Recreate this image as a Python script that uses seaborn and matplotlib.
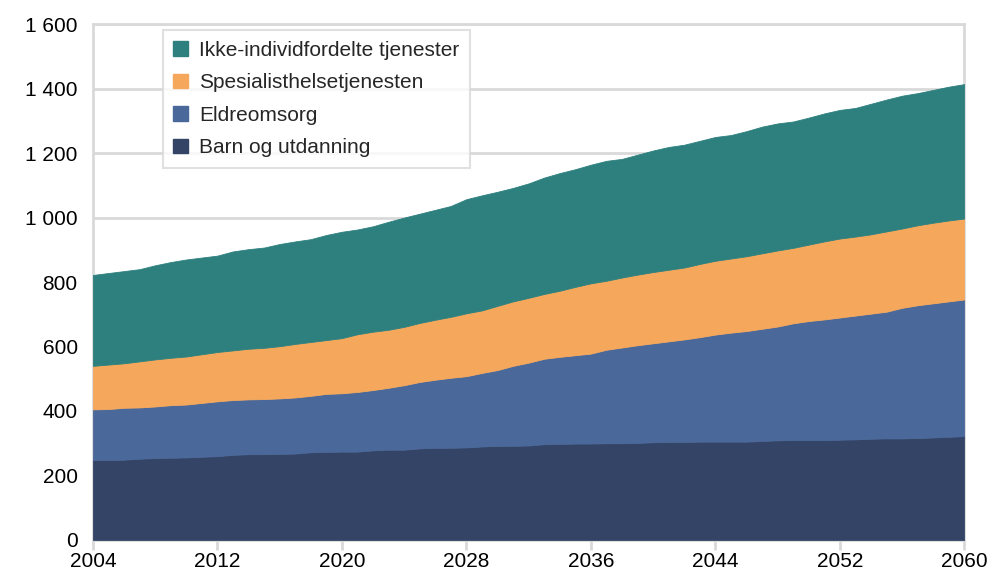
import matplotlib
matplotlib.use("Agg")
import matplotlib.pyplot as plt
import matplotlib.ticker as mticker
from matplotlib.patches import Patch
import seaborn as sns

# data (billion kr)
years = list(range(2004, 2061))

barn = [248, 248, 249, 252, 254, 255, 256, 258, 260, 264,
        266, 266, 267, 268, 272, 273, 274, 274, 278, 280,
        280, 284, 286, 286, 287, 290, 292, 292, 293, 297,
        298, 299, 299, 300, 300, 301, 303, 304, 304, 305,
        305, 305, 305, 307, 309, 310, 310, 310, 311, 312,
        314, 315, 315, 316, 318, 320, 322]

eldre = [157, 158, 161, 159, 160, 163, 164, 167, 170, 170,
         170, 171, 172, 174, 175, 180, 181, 185, 187, 192,
         200, 206, 211, 217, 221, 228, 235, 248, 257, 265,
         270, 274, 279, 290, 297, 303, 307, 312, 318, 324,
         332, 338, 343, 348, 353, 362, 369, 374, 379, 384,
         388, 393, 405, 412, 416, 420, 424]

spes = [135, 138, 138, 143, 146, 147, 149, 151, 153, 154,
        157, 159, 162, 166, 167, 167, 171, 179, 181, 180,
        181, 183, 186, 189, 195, 194, 199, 200, 201, 201,
        205, 212, 218, 214, 217, 219, 221, 222, 223, 227,
        229, 230, 232, 234, 236, 234, 237, 242, 245, 245,
        246, 249, 246, 248, 250, 251, 251]

ikke = [282, 284, 286, 286, 292, 297, 301, 300, 299, 307,
        309, 311, 317, 318, 319, 326, 330, 325, 327, 335,
        339, 339, 341, 344, 354, 357, 354, 352, 355, 361,
        365, 365, 368, 372, 368, 372, 377, 381, 381, 382,
        384, 383, 388, 393, 394, 392, 394, 397, 399, 399,
        405, 409, 412, 410, 412, 415, 417]

labels = ["Barn og utdanning", "Eldreomsorg",
          "Spesialisthelsetjenesten", "Ikke-individfordelte tjenester"]
colors = ["#334466", "#4A6899", "#F5A85C", "#2D807E"]

sns.set_theme(style="white")
plt.rcParams['font.family'] = ['Liberation Sans', 'DejaVu Sans']

fig = plt.figure(figsize=(9.89, 5.75), dpi=100)
ax = fig.add_axes([0.094, 0.061, 0.881, 0.897])

polys = ax.stackplot(years, barn, eldre, spes, ikke,
                     colors=sns.color_palette(colors), labels=labels, zorder=3)
for p in polys:
    p.set_edgecolor(p.get_facecolor())
    p.set_linewidth(0.6)

ax.set_xlim(2004, 2060)
ax.set_ylim(0, 1600)
ax.set_xticks(range(2004, 2061, 8))
ax.set_yticks(range(0, 1601, 200))
ax.yaxis.set_major_formatter(
    mticker.FuncFormatter(lambda v, p: f"{int(v):,}".replace(",", " ")))

grid_col = "#D9D9D9"
ax.grid(axis='y', color=grid_col, linewidth=2, zorder=0)
ax.set_axisbelow(True)
for s in ax.spines.values():
    s.set_color(grid_col)
    s.set_linewidth(2)

ax.tick_params(axis='x', which='major', direction='out', length=7, width=2,
               color=grid_col, labelsize=15, labelcolor='black', pad=2, bottom=True)
ax.tick_params(axis='y', length=0, labelsize=15, labelcolor='black', pad=11)

handles = [Patch(facecolor=c, edgecolor=c) for c in colors[::-1]]
leg = ax.legend(handles, labels[::-1], loc='upper left',
                bbox_to_anchor=(0.08, 0.988), borderaxespad=0,
                fontsize=15, frameon=True, fancybox=False,
                handlelength=0.7, handleheight=0.7, handletextpad=0.55,
                labelspacing=0.65, borderpad=0.5)
leg.get_frame().set_edgecolor(grid_col)
leg.get_frame().set_linewidth(1.5)
leg.set_zorder(5)

fig.savefig("out.png", dpi=100)
